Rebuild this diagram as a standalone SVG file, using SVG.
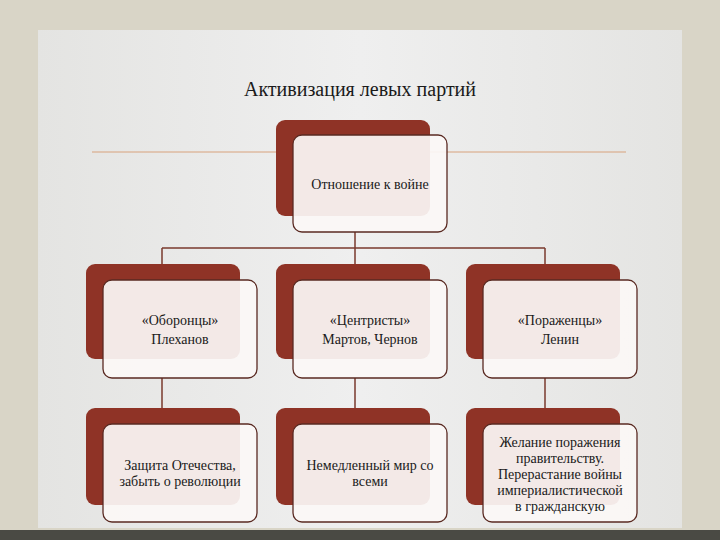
<svg xmlns="http://www.w3.org/2000/svg" width="720" height="540" viewBox="0 0 720 540">
<defs>
<linearGradient id="bg" x1="0" y1="0" x2="1" y2="0"><stop offset="0" stop-color="#e4e4e2"/><stop offset="0.5" stop-color="#efefef"/><stop offset="1" stop-color="#e4e4e2"/></linearGradient>
</defs>
<style>
.d{fill:#8f3326}
.w{fill:#fbf8f6;fill-opacity:0.93;stroke:#5a2a22;stroke-width:1.3}
.c{stroke:#7a3a2e;stroke-width:1.5;fill:none}
text{font-family:"Liberation Serif",serif;fill:#1a1a1a;text-anchor:middle}
.t{font-size:14px}
</style>
<rect width="720" height="540" fill="#d9d5c7"/>
<rect x="38" y="30" width="644" height="498" fill="url(#bg)"/>
<rect x="0" y="530" width="720" height="10" fill="#4a4a44"/>
<text x="360" y="96" font-size="20">Активизация левых партий</text>
<line x1="92" y1="152" x2="626" y2="152" stroke="#d8a27c" stroke-width="1"/>
<g id="connectors" class="c">
<path d="M355 232V248M162 248H545M162 248V264M355 248V264M545 248V264"/>
<path d="M162 378V408M355 378V408M545 378V408"/>
</g>
<g id="n0"><rect class="d" x="276" y="120" width="154" height="96" rx="9"/><rect class="w" x="293" y="135" width="154" height="97" rx="9"/><text class="t" x="370" y="189">Отношение к войне</text></g>
<g id="n1"><rect class="d" x="86" y="264" width="154" height="95" rx="9"/><rect class="w" x="103" y="280" width="154" height="98" rx="9"/><text class="t" x="180" y="325">«Оборонцы»</text><text class="t" x="180" y="344">Плеханов</text></g>
<g id="n2"><rect class="d" x="276" y="264" width="154" height="95" rx="9"/><rect class="w" x="293" y="280" width="154" height="98" rx="9"/><text class="t" x="370" y="325">«Центристы»</text><text class="t" x="370" y="344">Мартов, Чернов</text></g>
<g id="n3"><rect class="d" x="466" y="264" width="154" height="95" rx="9"/><rect class="w" x="483" y="280" width="154" height="98" rx="9"/><text class="t" x="560" y="325">«Пораженцы»</text><text class="t" x="560" y="344">Ленин</text></g>
<g id="n4"><rect class="d" x="86" y="408" width="154" height="97" rx="9"/><rect class="w" x="103" y="424" width="154" height="98" rx="9"/><text class="t" x="180" y="470">Защита Отечества,</text><text class="t" x="180" y="486">забыть о революции</text></g>
<g id="n5"><rect class="d" x="276" y="408" width="154" height="97" rx="9"/><rect class="w" x="293" y="424" width="154" height="98" rx="9"/><text class="t" x="370" y="470">Немедленный мир со</text><text class="t" x="370" y="486">всеми</text></g>
<g id="n6"><rect class="d" x="466" y="408" width="154" height="97" rx="9"/><rect class="w" x="483" y="424" width="154" height="98" rx="9"/><text class="t" x="560" y="447">Желание поражения</text><text class="t" x="560" y="463">правительству.</text><text class="t" x="560" y="479">Перерастание войны</text><text class="t" x="560" y="495">империалистической</text><text class="t" x="560" y="511">в гражданскую</text></g>
</svg>
